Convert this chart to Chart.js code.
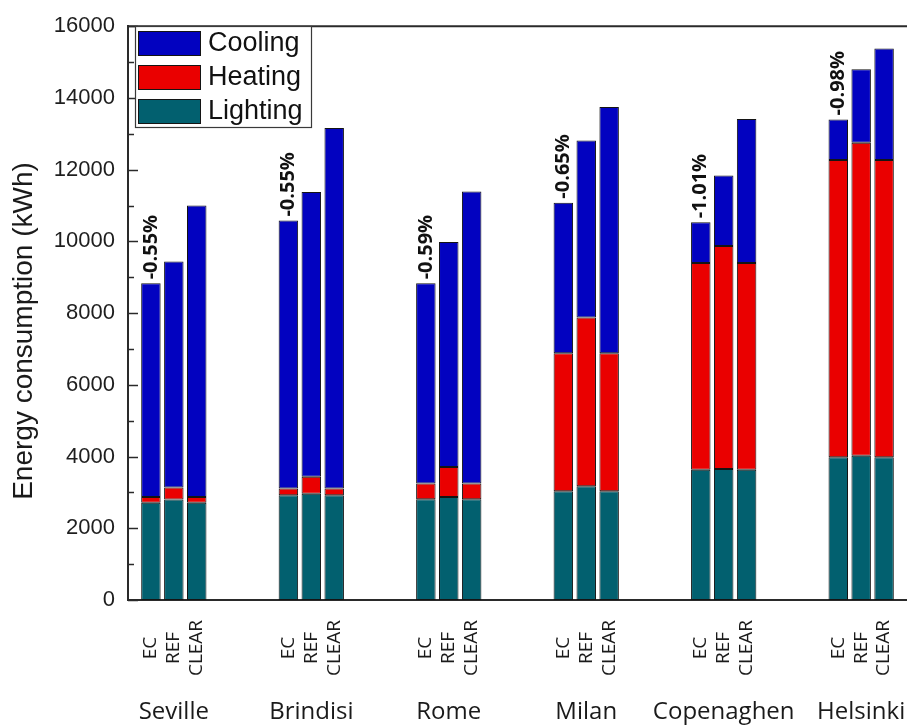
<!DOCTYPE html>
<html>
<head>
<meta charset="utf-8">
<script src="https://cdn.jsdelivr.net/npm/chart.js@4.4.1/dist/chart.umd.min.js"></script>
<style>
  html, body { margin: 0; padding: 0; background: #ffffff; }
  #wrap { width: 907px; height: 727px; position: relative; }
</style>
</head>
<body>
<div id="wrap"><canvas id="c" width="907" height="727"></canvas></div>
<script>
// Annual energy use per city and glazing option (kWh)
const cities = ['Seville', 'Brindisi', 'Rome', 'Milan', 'Copenaghen', 'Helsinki'];
const variants = ['EC', 'REF', 'CLEAR'];

// one entry per bar, ordered city by city: EC, REF, CLEAR
const lighting = [2710, 2800, 2710,  2920, 2960, 2920,  2810, 2870, 2810,  3030, 3170, 3030,  3630, 3650, 3630,  3980, 4020, 3980];
const heating  = [ 160,  340,  160,   190,  480,  190,   440,  840,  440,  3850, 4710, 3850,  5770, 6220, 5770,  8290, 8730, 8290];
const cooling  = [5960, 6300, 8130,  7470, 7940, 10050, 5580, 6270, 8140,  4200, 4930, 6870,  1130, 1970, 4010,  1130, 2050, 3110];

// saving of the EC option, written above the EC bar of each city
const savings = ['-0.55%', '-0.55%', '-0.59%', '-0.65%', '-1.01%', '-0.98%'];

const yMax = 16000;
const yMajorStep = 2000;
const yMinorStep = 1000;

// each city takes six slots on the x scale: three bars and a gap
const SLOTS_PER_CITY = 6;
const barSlot = i => Math.floor(i / variants.length) * SLOTS_PER_CITY + (i % variants.length);
const citySlot = g => g * SLOTS_PER_CITY + 1;

const COLORS = { Cooling: '#0202c0', Heating: '#ea0000', Lighting: '#02606f' };
const EDGE = '#141414';
const INK = '#1a1a1a';

const toPoints = arr => arr.map((v, i) => ({ x: barSlot(i), y: v }));

const series = [
  { label: 'Lighting', values: lighting },
  { label: 'Heating', values: heating },
  { label: 'Cooling', values: cooling }
];

const datasets = series.map(s => ({
  label: s.label,
  data: toPoints(s.values),
  backgroundColor: COLORS[s.label],
  borderColor: EDGE,
  borderWidth: 1,
  borderSkipped: false,
  barPercentage: 0.85,
  categoryPercentage: 1.0
}));

const decorations = {
  id: 'decorations',
  afterDraw(chart) {
    const ctx = chart.ctx;
    const area = chart.chartArea;
    const xs = chart.scales.x;
    const ys = chart.scales.y;

    ctx.save();

    // top frame line
    ctx.strokeStyle = '#2a2a2a';
    ctx.lineWidth = 2;
    ctx.beginPath();
    ctx.moveTo(area.left, area.top);
    ctx.lineTo(area.right, area.top);
    ctx.stroke();

    // inward tick marks on the value axis (major and minor)
    ctx.lineWidth = 1.5;
    for (let v = 0; v <= yMax; v += yMinorStep) {
      const y = Math.round(ys.getPixelForValue(v)) + 0.5;
      const len = v % yMajorStep === 0 ? 10 : 6;
      ctx.beginPath();
      ctx.moveTo(area.left, y);
      ctx.lineTo(area.left + len, y);
      ctx.stroke();
    }

    // value axis title
    ctx.fillStyle = INK;
    ctx.font = '28px "Liberation Sans", Arial, sans-serif';
    ctx.textAlign = 'center';
    ctx.textBaseline = 'middle';
    ctx.save();
    ctx.translate(24, 331);
    ctx.rotate(-Math.PI / 2);
    ctx.fillText('Energy consumption (kWh)', 0, 0);
    ctx.restore();

    // saving labels above the EC bars
    ctx.font = 'bold 20px "Open Sans", sans-serif';
    ctx.fillStyle = '#111111';
    ctx.textAlign = 'left';
    ctx.textBaseline = 'middle';
    cities.forEach((city, g) => {
      const i = g * variants.length;
      const total = lighting[i] + heating[i] + cooling[i];
      const x = xs.getPixelForValue(barSlot(i));
      const y = ys.getPixelForValue(total) - 4;
      ctx.save();
      ctx.translate(x, y);
      ctx.rotate(-Math.PI / 2);
      ctx.fillText(savings[g], 0, 0);
      ctx.restore();
    });

    // option labels under every bar
    ctx.font = '19px "Open Sans", sans-serif';
    ctx.fillStyle = INK;
    ctx.textAlign = 'center';
    ctx.textBaseline = 'middle';
    for (let i = 0; i < lighting.length; i++) {
      const x = xs.getPixelForValue(barSlot(i));
      ctx.save();
      ctx.translate(x, 648);
      ctx.rotate(-Math.PI / 2);
      ctx.fillText(variants[i % variants.length], 0, 0);
      ctx.restore();
    }

    // city names
    ctx.font = '24px "Open Sans", sans-serif';
    ctx.textBaseline = 'alphabetic';
    cities.forEach((city, g) => {
      ctx.fillText(city, xs.getPixelForValue(citySlot(g)), 719);
    });

    // legend box in the top-left corner of the plot
    const lx = 135, ly = 26, lw = 176, lh = 101;
    ctx.fillStyle = '#ffffff';
    ctx.fillRect(lx, ly, lw, lh);
    ctx.strokeStyle = '#3a3a3a';
    ctx.lineWidth = 1.2;
    ctx.strokeRect(lx + 0.5, ly + 0.5, lw, lh);
    const legendOrder = chart.data.datasets.slice().reverse();
    ctx.font = '27px "Liberation Sans", Arial, sans-serif';
    ctx.textAlign = 'left';
    ctx.textBaseline = 'middle';
    legendOrder.forEach((ds, k) => {
      const sy = ly + 5 + k * 34;
      ctx.fillStyle = ds.backgroundColor;
      ctx.fillRect(lx + 3, sy, 62, 24);
      ctx.strokeStyle = EDGE;
      ctx.lineWidth = 1;
      ctx.strokeRect(lx + 3.5, sy + 0.5, 62, 24);
      ctx.fillStyle = '#111111';
      ctx.fillText(ds.label, lx + 73, sy + 13);
    });

    ctx.restore();
  }
};

new Chart(document.getElementById('c'), {
  type: 'bar',
  data: { datasets },
  options: {
    responsive: false,
    animation: false,
    devicePixelRatio: 1,
    layout: { padding: { top: 20, right: 0, bottom: 0, left: 0 } },
    plugins: {
      legend: { display: false },
      tooltip: { enabled: false }
    },
    scales: {
      x: {
        type: 'linear',
        stacked: true,
        offset: false,
        min: -1,
        max: 33,
        grid: { display: false, drawTicks: false },
        border: { display: true, color: '#2a2a2a', width: 2 },
        ticks: { display: false },
        afterFit(scale) { scale.height = 127; }
      },
      y: {
        stacked: true,
        min: 0,
        max: yMax,
        grid: { display: false, drawTicks: false },
        border: { display: true, color: '#2a2a2a', width: 2 },
        ticks: {
          stepSize: yMajorStep,
          padding: 13,
          color: '#1e1e1e',
          font: { family: '"Liberation Sans", Arial, sans-serif', size: 22 },
          callback: v => String(v)
        },
        afterFit(scale) { scale.width = 128; }
      }
    }
  },
  plugins: [decorations]
});
</script>
</body>
</html>
